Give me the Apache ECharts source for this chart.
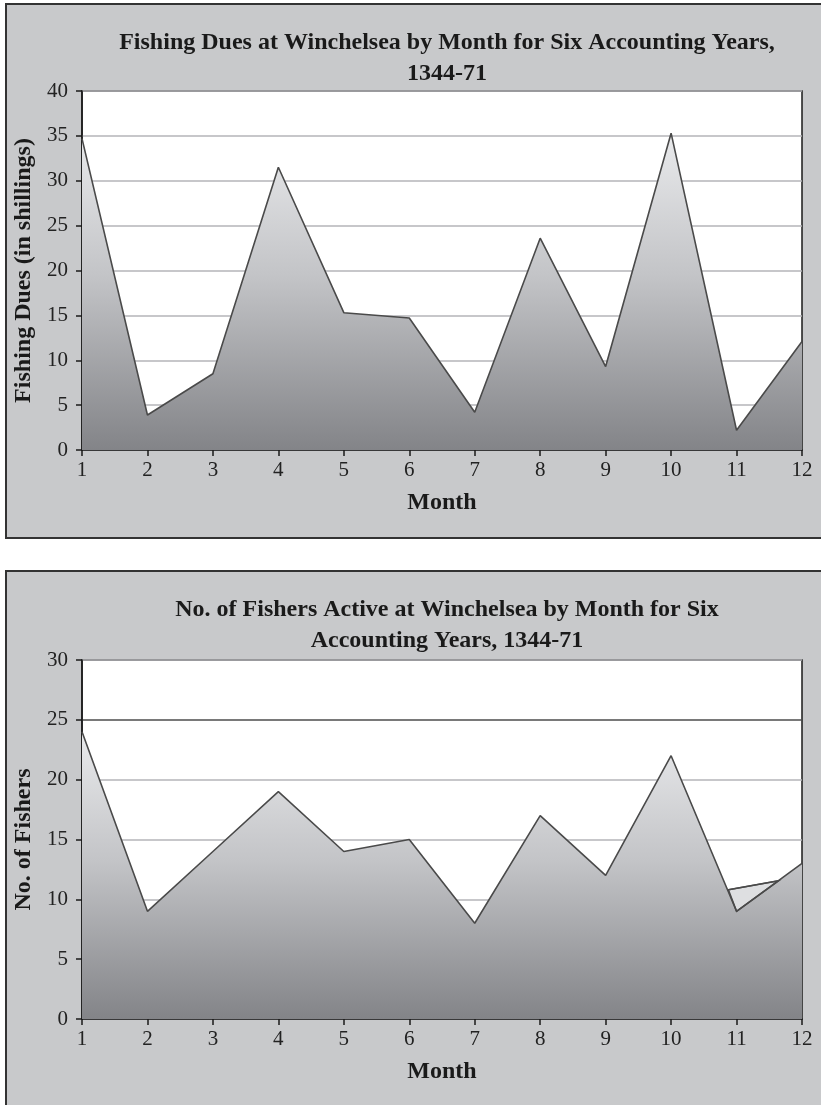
<!DOCTYPE html>
<html>
<head>
<meta charset="utf-8">
<script src="https://cdn.jsdelivr.net/npm/echarts@6/dist/echarts.min.js"></script>
<style>
  html, body { margin: 0; padding: 0; background: #fff; overflow: hidden; }
  body { width: 821px; height: 1105px; position: relative; }
  .panel { position: absolute; background: #c8c9cb; border: 2px solid #333; box-sizing: border-box; }
  #p1 { left: 5px; top: 3px; width: 840px; height: 536px; }
  #p2 { left: 5px; top: 570px; width: 840px; height: 600px; }
  #chart { position: absolute; left: 0; top: 0; width: 821px; height: 1105px; }
</style>
</head>
<body>
<div class="panel" id="p1"></div>
<div class="panel" id="p2"></div>
<div id="chart"></div>
<script>
// Monthly totals over six accounting years, Winchelsea, 1344-71
const months = ['1', '2', '3', '4', '5', '6', '7', '8', '9', '10', '11', '12'];
const duesShillings = [34.7, 3.9, 8.5, 31.5, 15.3, 14.7, 4.2, 23.6, 9.3, 35.3, 2.2, 12.1];
const fishersActive = [24, 9, 14, 19, 14, 15, 8, 17, 12, 22, 9, 13];
// small leftover fill patch around month 11 in the fishers chart: [month, fishers]
const fishersPatch = [[10.875, 10.8], [11, 9], [11.64, 11.55]];

// y-axis ranges: [min, max, step]
const duesRange = [0, 40, 5];
const fishersRange = [0, 30, 5];

const titles = [
  'Fishing Dues at Winchelsea by Month for Six Accounting Years,\n1344-71',
  'No. of Fishers Active at Winchelsea by Month for Six\nAccounting Years, 1344-71'
];
const yNames = ['Fishing Dues (in shillings)', 'No. of Fishers'];
const xName = 'Month';

const FONT = '"Liberation Serif", "DejaVu Serif", serif';
const INK = '#1a1a1a';
const GRID_LEFT = 82, GRID_W = 720, GRID_H = 359;
const gridTops = [91, 660];

function areaFill() {
  return new echarts.graphic.LinearGradient(0, 0, 0, 1, [
    { offset: 0, color: '#e9eaec' },
    { offset: 0.45, color: '#c3c4c7' },
    { offset: 1, color: '#838488' }
  ]);
}

function xAxisFor(i) {
  return {
    type: 'category', gridIndex: i, data: months, boundaryGap: false,
    name: xName, nameLocation: 'middle', nameGap: 41,
    nameTextStyle: { fontFamily: FONT, fontWeight: 'bold', fontSize: 24, color: INK },
    axisLine: { lineStyle: { color: INK, width: 1.5 } },
    axisTick: { show: true, length: 6, inside: false, lineStyle: { color: INK, width: 1.5 } },
    axisLabel: { fontFamily: FONT, fontSize: 21, color: '#222', margin: 10 },
    splitLine: { show: false }
  };
}

function yAxisFor(i, range, gridColors) {
  return {
    type: 'value', gridIndex: i, min: range[0], max: range[1], interval: range[2],
    name: yNames[i], nameLocation: 'middle', nameGap: 45, nameRotate: 90,
    nameTextStyle: { fontFamily: FONT, fontWeight: 'bold', fontSize: 24, color: INK },
    axisLine: { show: true, lineStyle: { color: INK, width: 1.5 } },
    axisTick: { show: true, length: 6, inside: false, lineStyle: { color: INK, width: 1.5 } },
    axisLabel: { fontFamily: FONT, fontSize: 21, color: '#222', margin: 14 },
    splitLine: { show: true, lineStyle: { color: gridColors, width: 1.5 } }
  };
}

const light = '#b4b5b8';
const chart = echarts.init(document.getElementById('chart'), null, { renderer: 'canvas' });
chart.setOption({
  backgroundColor: 'transparent',
  animation: false,
  title: titles.map((t, i) => ({
    text: t,
    left: GRID_LEFT + GRID_W / 2,
    textAlign: 'center',
    top: i === 0 ? 22 : 589,
    textStyle: { fontFamily: FONT, fontWeight: 'bold', fontSize: 24, color: INK, lineHeight: 31 }
  })),
  grid: gridTops.map(t => ({
    left: GRID_LEFT, top: t, width: GRID_W, height: GRID_H,
    show: true, backgroundColor: '#ffffff', borderColor: INK, borderWidth: 1.5
  })),
  xAxis: [
    xAxisFor(0),
    xAxisFor(1),
    // hidden numeric month axis sharing the second plot, for the patch
    { type: 'value', gridIndex: 1, min: 1, max: 12, show: false }
  ],
  yAxis: [
    yAxisFor(0, duesRange, light),
    yAxisFor(1, fishersRange, [light, light, light, light, light, '#4d4d4d', light])
  ],
  series: [duesShillings, fishersActive].map((vals, i) => ({
    type: 'line', xAxisIndex: i, yAxisIndex: i, data: vals,
    symbol: 'none',
    lineStyle: { color: '#4a4a4a', width: 1.6 },
    areaStyle: { color: areaFill(), opacity: 1 }
  })).concat([{
    type: 'custom', xAxisIndex: 2, yAxisIndex: 1, z: 3,
    data: [0],
    renderItem: function (params, api) {
      const pts = fishersPatch.map(p => api.coord(p));
      return {
        type: 'group',
        children: [
          { type: 'polygon', shape: { points: pts }, style: { fill: '#dedfe1', stroke: '#4a4a4a', lineWidth: 1.6 } },
          { type: 'line', shape: { x1: pts[0][0], y1: pts[0][1], x2: pts[2][0], y2: pts[2][1] },
            style: { stroke: '#4a4a4a', lineWidth: 1.6 } }
        ]
      };
    }
  }])
});
</script>
</body>
</html>
